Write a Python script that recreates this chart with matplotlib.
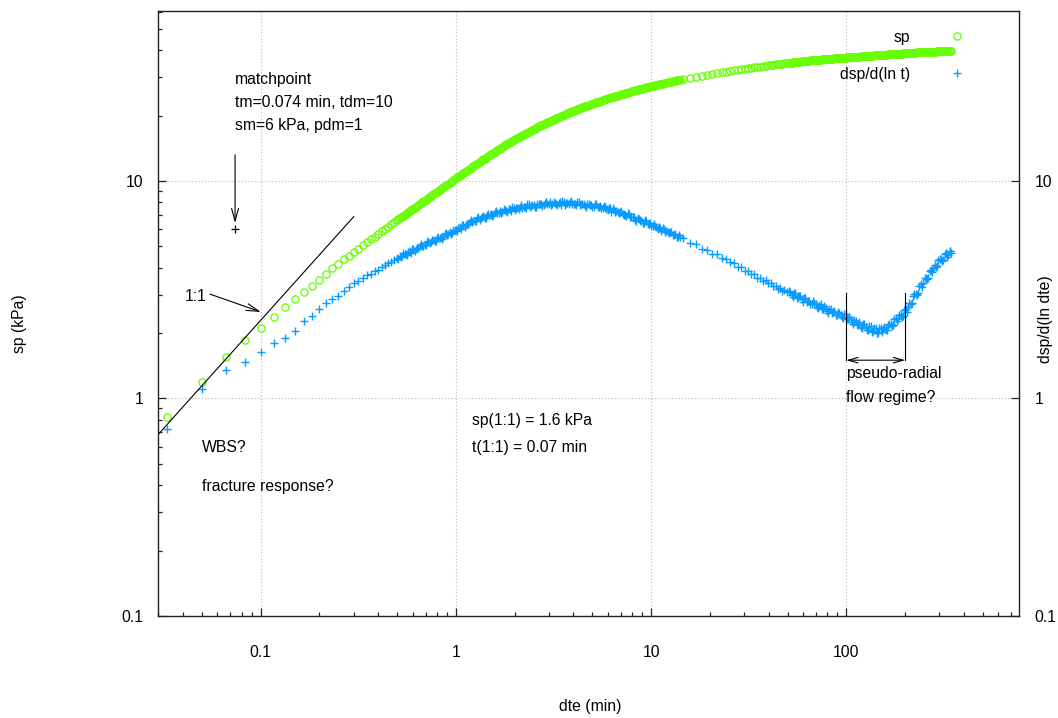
import numpy as np
import matplotlib.pyplot as plt
from matplotlib import ticker

plt.rcParams['font.family'] = ['Liberation Sans', 'DejaVu Sans']
plt.rcParams['font.size'] = 11.3

# elapsed time since shut-in (min): 1 s logging first, 1.2 min logging after ~14.5 min
dte = [
    0.0333, 0.05, 0.0667, 0.0833, 0.1, 0.1167, 0.1333, 0.15, 0.1667, 0.1833,
    0.2, 0.2167, 0.2333, 0.25, 0.2667, 0.2833, 0.3, 0.3167, 0.3333, 0.35,
    0.3667, 0.3833, 0.4, 0.4167, 0.4333, 0.45, 0.4667, 0.4833, 0.5,
    0.5075,
    0.515, 0.5225, 0.53, 0.538, 0.546, 0.554, 0.562, 0.571, 0.58, 0.5885,
    0.597, 0.606, 0.615, 0.624, 0.633, 0.6425, 0.652, 0.662, 0.672, 0.682,
    0.692, 0.7025, 0.713, 0.7235, 0.734, 0.745, 0.756, 0.7675, 0.779, 0.7905,
    0.802, 0.814, 0.826, 0.8385, 0.851, 0.8635, 0.876, 0.8895, 0.903, 0.9165,
    0.93, 0.944, 0.958, 0.972, 0.986, 1.001, 1.016, 1.031, 1.046, 1.062,
    1.078, 1.094, 1.11, 1.1265, 1.143, 1.1605, 1.178, 1.1955, 1.213, 1.231,
    1.249, 1.268, 1.287, 1.306, 1.325, 1.345, 1.365, 1.3855, 1.406, 1.427,
    1.448, 1.47, 1.492, 1.514, 1.536, 1.5595, 1.583, 1.6065, 1.63, 1.6545,
    1.679, 1.704, 1.729, 1.755, 1.781, 1.808, 1.835, 1.8625, 1.89, 1.918,
    1.946, 1.9755, 2.005, 2.035, 2.065, 2.096, 2.127, 2.1585, 2.19, 2.223,
    2.256, 2.29, 2.324, 2.359, 2.394, 2.4295, 2.465, 2.502, 2.539, 2.577,
    2.615, 2.6545, 2.694, 2.7345, 2.775, 2.8165, 2.858, 2.901, 2.944, 2.988,
    3.032, 3.0775, 3.123, 3.17, 3.217, 3.265, 3.313, 3.363, 3.413, 3.464,
    3.515, 3.568, 3.621, 3.675, 3.729, 3.785, 3.841, 3.8985, 3.956, 4.0155,
    4.075, 4.136, 4.197, 4.26, 4.323, 4.388, 4.453, 4.52, 4.587, 4.6555,
    4.724, 4.795, 4.866, 4.939, 5.012, 5.087, 5.162, 5.2395, 5.317, 5.397,
    5.477, 5.559, 5.641, 5.7255, 5.81, 5.8975, 5.985, 6.0745, 6.164, 6.2565,
    6.349, 6.4445, 6.54, 6.638, 6.736, 6.837, 6.938, 7.042, 7.146, 7.2535,
    7.361, 7.471, 7.581, 7.695, 7.809, 7.926, 8.043, 8.164, 8.285, 8.409,
    8.533, 8.661, 8.789, 8.921, 9.053, 9.189, 9.325, 9.4645, 9.604, 9.748,
    9.892, 10.04, 10.19, 10.345, 10.5, 10.655, 10.81, 10.97, 11.13, 11.3,
    11.47, 11.64, 11.81, 11.99, 12.17, 12.35, 12.53, 12.72, 12.91, 13.105,
    13.3, 13.5, 13.7, 13.9, 14.1,
    14.6, 15.8, 17.0, 18.2, 19.4, 20.6, 21.8, 23.0, 24.2, 25.4,
    26.6, 27.8, 29.0, 30.2, 31.4, 32.6, 33.8, 35.0, 36.2, 37.4,
    38.6, 39.8, 41.0, 42.2, 43.4, 44.6, 45.8, 47.0, 48.2, 49.4,
    51.0, 51.75, 52.5, 53.3, 54.1, 54.9, 55.7, 56.55, 57.4, 58.25,
    59.1, 60.0, 60.9, 61.8, 62.7, 63.65, 64.6, 65.55, 66.5, 67.5,
    68.5, 69.55, 70.6, 71.65, 72.7, 73.8, 74.9, 76.0, 77.1, 78.25,
    79.4, 80.6, 81.8, 83.05, 84.3, 85.55, 86.8, 88.1, 89.4, 90.75,
    92.1, 93.45, 94.8, 96.25, 97.7, 99.15, 100.6, 102.1, 103.6, 105.15,
    106.7, 108.3, 109.9, 111.55, 113.2, 114.9, 116.6, 118.35, 120.1, 121.9,
    123.7, 125.55, 127.4, 129.35, 131.3, 133.25, 135.2, 137.2, 139.2, 141.3,
    143.4, 145.55, 147.7, 149.95, 152.2, 154.45, 156.7, 159.05, 161.4, 163.85,
    166.3, 168.8, 171.3, 173.85, 176.4, 179.05, 181.7, 184.4, 187.1, 189.9,
    192.7, 195.6, 198.5, 201.5, 204.5, 207.55, 210.6, 213.75, 216.9, 220.15,
    223.4, 226.75, 230.1, 233.55, 237.0, 240.6, 244.2, 247.85, 251.5, 255.25,
    259.0, 262.9, 266.8, 270.8, 274.8, 278.9, 283.0, 287.25, 291.5, 295.9,
    300.3, 304.8, 309.3, 313.9, 318.5, 323.3, 328.1, 333.0, 337.9, 341.45,
    345.0,
]

# shut-in pressure change (kPa)
sp = [
    0.825, 1.187, 1.546, 1.858, 2.109, 2.377, 2.643, 2.868, 3.077, 3.302,
    3.517, 3.748, 3.97, 4.17, 4.365, 4.536, 4.716, 4.89, 5.06, 5.23,
    5.39, 5.55, 5.71, 5.87, 6.02, 6.17, 6.32, 6.47, 6.61,
    6.68,
    6.74, 6.80, 6.86, 6.93, 6.99, 7.06, 7.13, 7.20, 7.26, 7.33,
    7.40, 7.47, 7.54, 7.61, 7.68, 7.76, 7.83, 7.91, 7.98, 8.06,
    8.13, 8.21, 8.29, 8.37, 8.44, 8.52, 8.60, 8.69, 8.77, 8.85,
    8.93, 9.02, 9.10, 9.19, 9.28, 9.37, 9.45, 9.54, 9.63, 9.73,
    9.82, 9.91, 10.00, 10.10, 10.19, 10.29, 10.38, 10.48, 10.57, 10.67,
    10.77, 10.87, 10.97, 11.07, 11.17, 11.28, 11.38, 11.49, 11.59, 11.70,
    11.80, 11.91, 12.01, 12.12, 12.22, 12.33, 12.44, 12.56, 12.67, 12.78,
    12.89, 13.01, 13.12, 13.24, 13.36, 13.48, 13.60, 13.72, 13.84, 13.97,
    14.09, 14.22, 14.34, 14.48, 14.62, 14.74, 14.86, 14.97, 15.08, 15.19,
    15.30, 15.41, 15.52, 15.64, 15.75, 15.87, 15.98, 16.10, 16.21, 16.33,
    16.45, 16.57, 16.69, 16.81, 16.93, 17.06, 17.18, 17.31, 17.43, 17.56,
    17.68, 17.82, 17.95, 18.06, 18.17, 18.28, 18.38, 18.49, 18.60, 18.72,
    18.83, 18.94, 19.05, 19.17, 19.28, 19.40, 19.51, 19.63, 19.74, 19.86,
    19.98, 20.10, 20.22, 20.34, 20.46, 20.59, 20.71, 20.84, 20.96, 21.08,
    21.19, 21.29, 21.39, 21.49, 21.59, 21.70, 21.80, 21.91, 22.01, 22.11,
    22.21, 22.32, 22.42, 22.53, 22.64, 22.75, 22.85, 22.96, 23.07, 23.18,
    23.29, 23.40, 23.51, 23.62, 23.73, 23.85, 23.96, 24.06, 24.15, 24.25,
    24.34, 24.44, 24.53, 24.63, 24.72, 24.82, 24.92, 25.02, 25.12, 25.22,
    25.31, 25.41, 25.51, 25.62, 25.72, 25.82, 25.92, 26.02, 26.12, 26.23,
    26.33, 26.43, 26.52, 26.61, 26.69, 26.77, 26.85, 26.94, 27.02, 27.10,
    27.18, 27.27, 27.35, 27.44, 27.52, 27.61, 27.69, 27.78, 27.86, 27.95,
    28.03, 28.12, 28.21, 28.30, 28.38, 28.47, 28.56, 28.65, 28.74, 28.83,
    28.91, 29.00, 29.09, 29.18, 29.27,
    29.40, 29.80, 30.15, 30.49, 30.80, 31.10, 31.35, 31.58, 31.81, 32.03,
    32.24, 32.43, 32.63, 32.81, 32.97, 33.14, 33.30, 33.45, 33.60, 33.74,
    33.88, 34.01, 34.14, 34.25, 34.36, 34.46, 34.56, 34.66, 34.75, 34.85,
    34.96, 35.01, 35.06, 35.12, 35.17, 35.22, 35.27, 35.32, 35.37, 35.43,
    35.48, 35.53, 35.58, 35.64, 35.69, 35.74, 35.79, 35.85, 35.90, 35.95,
    35.99, 36.03, 36.07, 36.11, 36.14, 36.18, 36.22, 36.26, 36.29, 36.33,
    36.37, 36.41, 36.45, 36.49, 36.52, 36.56, 36.60, 36.64, 36.68, 36.72,
    36.75, 36.79, 36.83, 36.87, 36.91, 36.96, 37.00, 37.04, 37.07, 37.11,
    37.14, 37.18, 37.21, 37.25, 37.28, 37.32, 37.35, 37.39, 37.42, 37.46,
    37.49, 37.53, 37.56, 37.60, 37.63, 37.67, 37.70, 37.74, 37.78, 37.82,
    37.85, 37.89, 37.92, 37.96, 37.99, 38.03, 38.06, 38.10, 38.13, 38.17,
    38.21, 38.25, 38.28, 38.32, 38.35, 38.39, 38.43, 38.47, 38.50, 38.54,
    38.57, 38.61, 38.65, 38.69, 38.72, 38.76, 38.79, 38.83, 38.87, 38.91,
    38.94, 38.97, 38.99, 39.02, 39.04, 39.07, 39.10, 39.13, 39.15, 39.18,
    39.20, 39.23, 39.25, 39.28, 39.31, 39.34, 39.36, 39.39, 39.41, 39.44,
    39.46, 39.49, 39.52, 39.55, 39.57, 39.60, 39.62, 39.65, 39.68, 39.71,
    39.73,
]

# log-time derivative dsp/d(ln t) (kPa)
dsp = [
    0.722, 1.102, 1.352, 1.476, 1.641, 1.794, 1.904, 2.043, 2.265, 2.403,
    2.57, 2.74, 2.867, 2.97, 3.13, 3.26, 3.39, 3.47, 3.60, 3.68,
    3.75, 3.84, 3.90, 4.02, 4.10, 4.19, 4.24, 4.33, 4.41,
    4.40,
    4.53, 4.45, 4.50, 4.65, 4.62, 4.62, 4.57, 4.73, 4.78, 4.66,
    4.87, 4.87, 4.79, 4.89, 4.92, 4.90, 5.03, 5.12, 5.00, 5.05,
    5.09, 5.09, 5.27, 5.31, 5.20, 5.26, 5.34, 5.38, 5.29, 5.29,
    5.49, 5.51, 5.49, 5.52, 5.44, 5.52, 5.69, 5.75, 5.64, 5.68,
    5.83, 5.72, 5.77, 5.98, 5.95, 5.94, 5.88, 6.09, 6.15, 6.01,
    6.27, 6.28, 6.17, 6.30, 6.34, 6.32, 6.49, 6.60, 6.46, 6.52,
    6.56, 6.55, 6.79, 6.81, 6.65, 6.73, 6.82, 6.88, 6.76, 6.76,
    7.00, 7.03, 6.99, 7.02, 6.90, 6.99, 7.20, 7.26, 7.11, 7.12,
    7.30, 7.13, 7.17, 7.40, 7.33, 7.29, 7.19, 7.42, 7.45, 7.25,
    7.57, 7.51, 7.35, 7.48, 7.50, 7.44, 7.62, 7.72, 7.51, 7.56,
    7.58, 7.54, 7.80, 7.80, 7.60, 7.67, 7.75, 7.79, 7.63, 7.60,
    7.85, 7.86, 7.80, 7.81, 7.66, 7.75, 7.95, 8.00, 7.81, 7.81,
    7.98, 7.78, 7.80, 8.03, 7.93, 7.87, 7.74, 7.96, 7.98, 7.74,
    8.06, 7.98, 7.78, 7.90, 7.90, 7.82, 7.98, 8.06, 7.82, 7.84,
    7.84, 7.78, 8.02, 7.99, 7.76, 7.81, 7.86, 7.87, 7.68, 7.63,
    7.86, 7.84, 7.75, 7.73, 7.56, 7.61, 7.82, 7.81, 7.60, 7.57,
    7.70, 7.49, 7.48, 7.68, 7.56, 7.47, 7.32, 7.50, 7.48, 7.23,
    7.49, 7.38, 7.17, 7.25, 7.22, 7.11, 7.22, 7.26, 7.02, 7.01,
    6.98, 6.90, 7.09, 7.04, 6.81, 6.82, 6.84, 6.83, 6.64, 6.57,
    6.74, 6.71, 6.61, 6.58, 6.41, 6.44, 6.60, 6.56, 6.34, 6.33,
    6.41, 6.22, 6.20, 6.34, 6.22, 6.14, 6.00, 6.13, 6.11, 5.89,
    6.10, 6.00, 5.82, 5.88, 5.84, 5.75, 5.83, 5.85, 5.64, 5.64,
    5.69, 5.54, 5.55, 5.65, 5.50,
    5.46, 5.21, 5.12, 4.88, 4.84, 4.62, 4.60, 4.41, 4.38, 4.22,
    4.20, 4.03, 4.02, 3.86, 3.87, 3.73, 3.72, 3.60, 3.60, 3.48,
    3.49, 3.38, 3.39, 3.28, 3.30, 3.20, 3.22, 3.12, 3.14, 3.09,
    3.12, 3.08, 2.99, 2.94, 3.04, 3.07, 2.91, 2.92, 2.97, 2.95,
    2.86, 2.78, 2.90, 2.89, 2.77, 2.80, 2.82, 2.72, 2.71, 2.80,
    2.76, 2.72, 2.64, 2.61, 2.70, 2.72, 2.58, 2.59, 2.65, 2.62,
    2.53, 2.48, 2.59, 2.58, 2.46, 2.50, 2.53, 2.43, 2.41, 2.51,
    2.48, 2.43, 2.36, 2.34, 2.44, 2.44, 2.31, 2.32, 2.38, 2.33,
    2.24, 2.20, 2.30, 2.28, 2.17, 2.21, 2.24, 2.14, 2.11, 2.20,
    2.19, 2.14, 2.07, 2.06, 2.15, 2.15, 2.03, 2.05, 2.12, 2.10,
    2.01, 2.00, 2.11, 2.11, 2.02, 2.08, 2.13, 2.06, 2.06, 2.18,
    2.20, 2.19, 2.15, 2.17, 2.31, 2.35, 2.26, 2.32, 2.43, 2.44,
    2.38, 2.39, 2.55, 2.58, 2.51, 2.63, 2.74, 2.71, 2.76, 2.96,
    3.02, 3.03, 3.00, 3.06, 3.28, 3.37, 3.27, 3.38, 3.57, 3.60,
    3.54, 3.58, 3.86, 3.91, 3.81, 3.97, 4.13, 4.03, 4.06, 4.33,
    4.39, 4.36, 4.30, 4.34, 4.61, 4.68, 4.49, 4.57, 4.76, 4.76,
    4.66,
]

# type-curve matchpoint and unit-slope reading
tm, sm = 0.074, 6.0
t11, sp11 = 0.07, 1.6

green = '#66ff00'
blue = '#0a9bff'

fig = plt.figure(figsize=(10.58, 7.18), dpi=100)
ax = fig.add_axes([0.1498, 0.1421, 0.8136, 0.8426])
ax.set_xscale('log')
ax.set_yscale('log')
ax.set_xlim(0.03, 769)
ax.set_ylim(0.1, 60.5)

p1, = ax.plot(dte, sp, 'o', ms=5.2, mfc='none', mec=green, mew=0.95, ls='none')
p2, = ax.plot(dte, dsp, '+', ms=5.8, mec=blue, mew=1.0, ls='none')

# unit slope line through sp(1:1) at t(1:1)
xl = np.array([0.03, 0.3])
ax.plot(xl, sp11 / t11 * xl, color='k', lw=0.8)
ax.plot([tm], [sm], 'k+', ms=5.5, mew=0.9)

head = dict(color='k', lw=0.8, shrinkA=0, shrinkB=0, mutation_scale=10)
ax.annotate('', xy=(tm, 6.41), xytext=(tm, 13.2),
            arrowprops=dict(arrowstyle='->,head_length=0.9,head_width=0.25', **head))
ax.annotate('', xy=(0.1003, 2.50), xytext=(0.055, 3.02),
            arrowprops=dict(arrowstyle='->,head_length=0.9,head_width=0.25', **head))

# pseudo-radial flow bracket
ax.plot([100, 100], [1.5, 3.05], color='k', lw=0.8)
ax.plot([200, 200], [1.5, 3.05], color='k', lw=0.8)
ax.annotate('', xy=(100, 1.5), xytext=(200, 1.5),
            arrowprops=dict(arrowstyle='<->,head_length=0.7,head_width=0.2', **head))

ax.text(tm, 28.0, 'matchpoint', va='baseline')
ax.text(tm, 21.9, 'tm=0.074 min, tdm=10', va='baseline')
ax.text(tm, 17.1, 'sm=6 kPa, pdm=1', va='baseline')
ax.text(0.041, 2.82, '1:1', va='baseline')
ax.text(0.05, 0.566, 'WBS?', va='baseline')
ax.text(0.05, 0.377, 'fracture response?', va='baseline')
ax.text(1.205, 0.755, 'sp(1:1) = 1.6 kPa', va='baseline')
ax.text(1.205, 0.569, 't(1:1) = 0.07 min', va='baseline')
ax.text(100, 1.238, 'pseudo-radial', va='baseline')
ax.text(100, 0.966, 'flow regime?', va='baseline')

fmt = ticker.FuncFormatter(lambda v, pos: f'{v:g}')
ax.xaxis.set_major_locator(ticker.FixedLocator([0.1, 1, 10, 100]))
ax.xaxis.set_major_formatter(fmt)
ax.xaxis.set_minor_locator(ticker.LogLocator(base=10, subs=np.arange(2, 10), numticks=20))
ax.xaxis.set_minor_formatter(ticker.NullFormatter())
ax.yaxis.set_major_locator(ticker.FixedLocator([0.1, 1, 10]))
ax.yaxis.set_major_formatter(fmt)
ax.yaxis.set_minor_locator(ticker.LogLocator(base=10, subs=np.arange(2, 10), numticks=20))
ax.yaxis.set_minor_formatter(ticker.NullFormatter())
ax.tick_params(which='both', direction='in', top=False, right=False, color='#222222')
ax.tick_params(which='major', length=5.5, width=0.9)
ax.tick_params(which='minor', length=2.7, width=0.9)
ax.tick_params(axis='x', which='major', pad=21)
ax.tick_params(axis='y', which='major', pad=11)
ax.grid(True, which='major', linestyle=(0, (1, 2)), color='#b8b8b8', linewidth=0.8)
for s in ax.spines.values():
    s.set_color('#222222')
    s.set_linewidth(1.0)

ax2 = ax.twinx()
ax2.set_yscale('log')
ax2.set_ylim(ax.get_ylim())
ax2.yaxis.set_major_locator(ticker.FixedLocator([0.1, 1, 10]))
ax2.yaxis.set_major_formatter(fmt)
ax2.yaxis.set_minor_locator(ticker.NullLocator())
ax2.tick_params(axis='y', direction='in', length=5.5, width=0.9, pad=11, color='#222222')
for s in ax2.spines.values():
    s.set_visible(False)

ax.set_xlabel('dte (min)')
ax.set_ylabel('sp (kPa)')
ax2.set_ylabel('dsp/d(ln dte)')
ax.xaxis.set_label_coords(0.501, -0.137)
ax.yaxis.set_label_coords(-0.1527, 0.483)
ax2.yaxis.set_label_coords(1.022, 0.49)

ax.legend([p1, p2], ['sp', 'dsp/d(ln t)'], loc='upper right',
          bbox_to_anchor=(0.9675, 0.9686), frameon=False, markerfirst=False,
          numpoints=1, handlelength=4.4, handletextpad=0.8, labelspacing=1.4,
          borderaxespad=0, borderpad=0)

fig.savefig('out.png', dpi=100)
